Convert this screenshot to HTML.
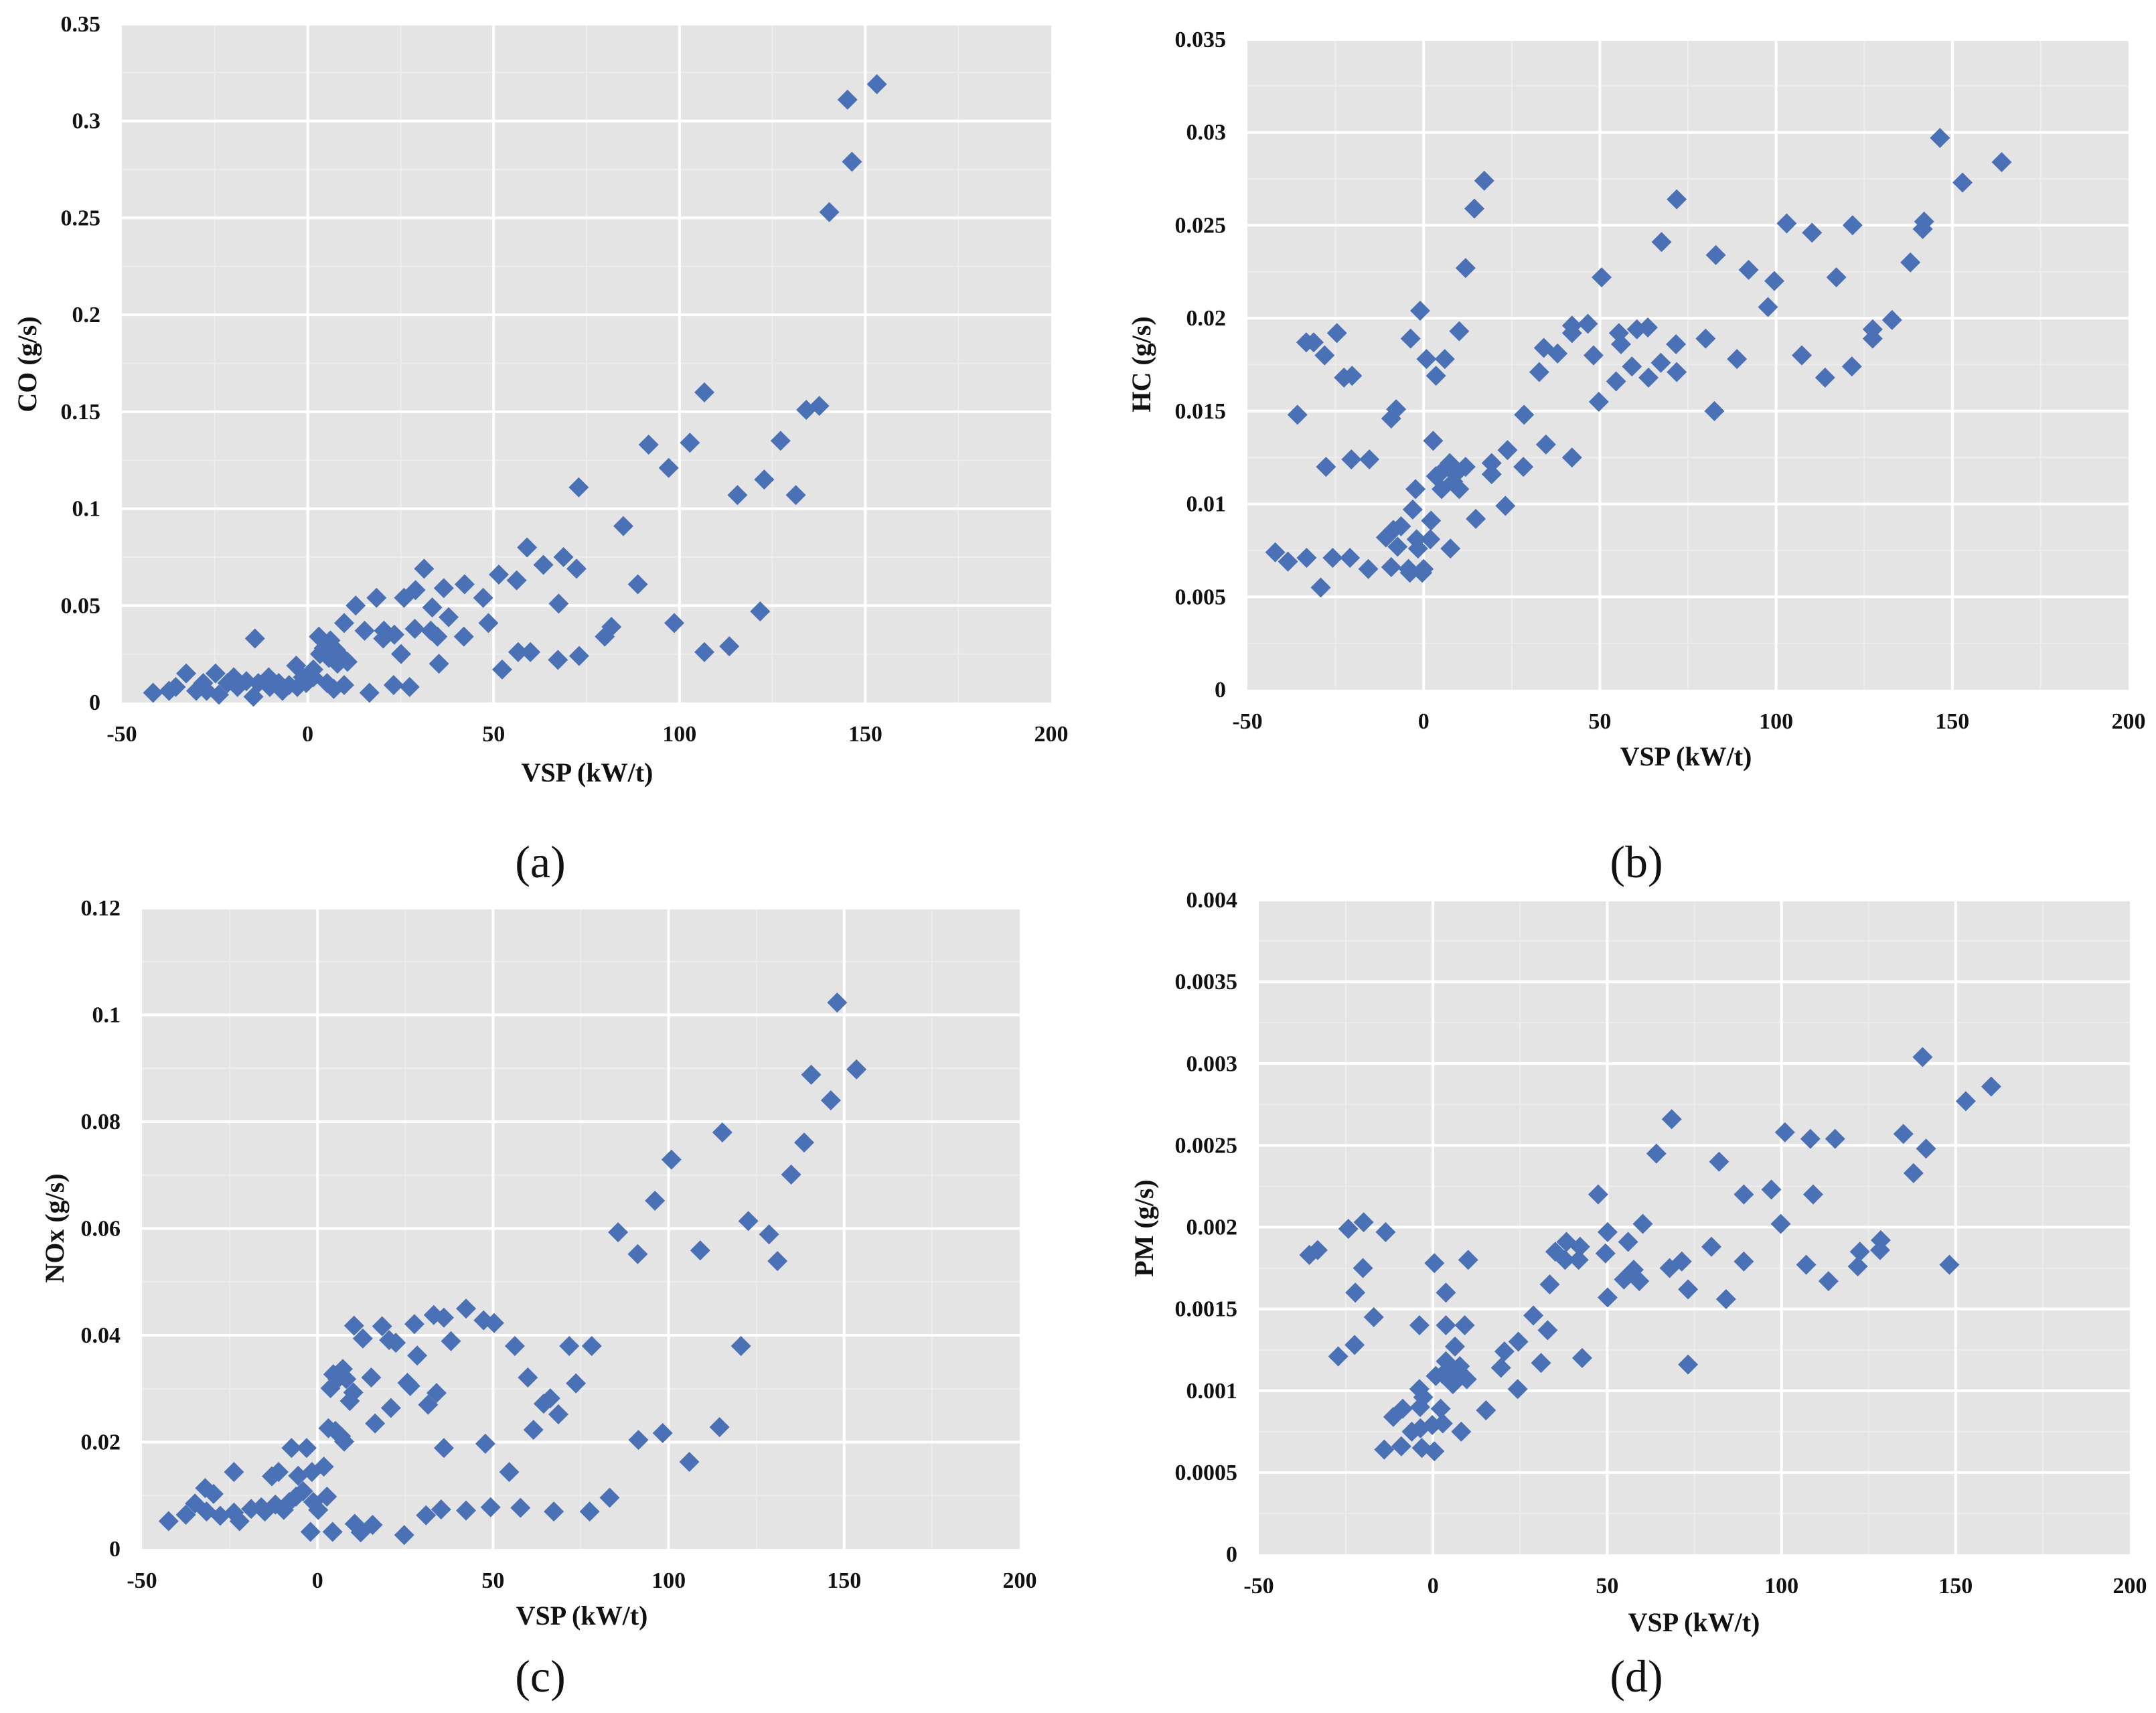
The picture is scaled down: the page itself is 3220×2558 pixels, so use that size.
<!DOCTYPE html>
<html><head><meta charset="utf-8">
<style>
html,body{margin:0;padding:0;background:#fff;}
svg{display:block;}
svg text{font-family:"Liberation Serif","Times New Roman",serif;}
</style></head>
<body>
<svg id="fig" width="3220" height="2558" viewBox="0 0 3220 2558" xmlns="http://www.w3.org/2000/svg"></svg>
<script>
// ---------- Data ----------
const xTicks = [-50, 0, 50, 100, 150, 200];
const coTicks = [0, 0.05, 0.1, 0.15, 0.2, 0.25, 0.3, 0.35];
const coTickLabels = ["0","0.05","0.1","0.15","0.2","0.25","0.3","0.35"];
const hcTicks = [0, 0.005, 0.01, 0.015, 0.02, 0.025, 0.03, 0.035];
const hcTickLabels = ["0","0.005","0.01","0.015","0.02","0.025","0.03","0.035"];
const noxTicks = [0, 0.02, 0.04, 0.06, 0.08, 0.1, 0.12];
const noxTickLabels = ["0","0.02","0.04","0.06","0.08","0.1","0.12"];
const pmTicks = [0, 0.0005, 0.001, 0.0015, 0.002, 0.0025, 0.003, 0.0035, 0.004];
const pmTickLabels = ["0","0.0005","0.001","0.0015","0.002","0.0025","0.003","0.0035","0.004"];

const coVSP = [153.1,145.2,146.4,140.3,106.7,134.1,137.6,91.7,102.8,127.2,97.1,72.9,115.6,122.8,131.3,84.9,59.0,63.4,68.8,72.3,51.4,56.2,88.8,67.5,31.3,42.2,36.6,47.2,48.6,25.9,29.0,18.5,12.9,33.5,37.9,42.0,34.9,33.1,28.8,20.5,23.3,20.3,15.3,9.8,25.1,35.3,98.6,81.7,79.9,121.7,56.6,59.9,52.3,67.3,73.0,106.7,113.4,23.1,27.4,16.6,-14.2,-3.1,3.0,6.1,4.3,7.6,8.9,10.7,3.3,5.7,8.0,1.5,5.2,9.8,7.0,-0.4,-2.8,-5.0,-7.8,-10.5,-10.2,-13.3,-14.6,-16.5,-19.9,-18.9,-23.9,-24.8,-28.1,-30,-32.7,-35.5,-37.3,-41.6,-27.2,-21.6,-6.8,-1.3,1.5];
const coVal = [0.319,0.311,0.279,0.253,0.160,0.151,0.153,0.133,0.134,0.135,0.121,0.111,0.107,0.115,0.107,0.091,0.080,0.071,0.075,0.069,0.066,0.063,0.061,0.051,0.069,0.061,0.059,0.054,0.041,0.054,0.058,0.054,0.050,0.049,0.044,0.034,0.034,0.037,0.038,0.037,0.035,0.033,0.037,0.041,0.025,0.020,0.041,0.039,0.034,0.047,0.026,0.026,0.017,0.022,0.024,0.026,0.029,0.009,0.008,0.005,0.033,0.019,0.034,0.032,0.028,0.027,0.024,0.021,0.025,0.023,0.020,0.017,0.010,0.009,0.007,0.010,0.008,0.009,0.010,0.013,0.008,0.010,0.003,0.011,0.013,0.008,0.004,0.015,0.010,0.006,0.015,0.008,0.006,0.005,0.006,0.010,0.006,0.013,0.013];

const hcVSP = [146.5,164.0,152.9,71.8,17.2,14.4,11.9,67.5,103.0,110.2,121.7,142.0,141.6,138.1,82.9,92.2,99.5,117.1,50.5,97.7,132.9,127.4,127.4,121.5,113.9,107.3,80.0,88.9,82.5,71.6,71.8,67.3,63.6,60.5,55.4,56.0,59.1,63.8,54.6,49.7,48.2,46.6,42.1,42.1,38.0,34.1,32.8,28.5,34.7,42.1,23.8,28.3,19.3,19.3,23.2,14.8,10.1,-1.0,-3.7,0.8,6.0,3.5,-7.8,-9.2,-35.8,-33.3,-31.2,-24.6,-28.1,-22.6,-20.3,-27.7,-20.5,-15.4,2.7,-2.3,-3.1,2.1,1.9,-2.0,-1.6,7.6,3.5,5.5,7.4,9.0,11.9,5.1,10.1,8.4,-6.4,-8.6,-10.7,-7.4,-9.2,-4.3,0,-3.9,-0.4,-15.7,-20.9,-25.8,-33.2,-38.5,-42.1,-29.2];
const hcVal = [0.0297,0.0284,0.0273,0.0264,0.0274,0.0259,0.0227,0.0241,0.0251,0.0246,0.0250,0.0252,0.0248,0.0230,0.0234,0.0226,0.0220,0.0222,0.0222,0.0206,0.0199,0.0194,0.0189,0.0174,0.0168,0.0180,0.0189,0.0178,0.0150,0.0186,0.0171,0.0176,0.0195,0.0194,0.0192,0.0186,0.0174,0.0168,0.0166,0.0155,0.0180,0.0197,0.0196,0.0192,0.0181,0.0184,0.0171,0.0148,0.0132,0.0125,0.0129,0.0120,0.0122,0.0116,0.0099,0.0092,0.0193,0.0204,0.0189,0.0178,0.0178,0.0169,0.0151,0.0146,0.0148,0.0187,0.0187,0.0192,0.0180,0.0168,0.0169,0.0120,0.0124,0.0124,0.0134,0.0108,0.0097,0.0091,0.0081,0.0081,0.0076,0.0076,0.0115,0.0118,0.0122,0.0116,0.0120,0.0108,0.0108,0.0112,0.0088,0.0086,0.0082,0.0077,0.0066,0.0065,0.0065,0.0063,0.0063,0.0065,0.0071,0.0071,0.0071,0.0069,0.0074,0.0055];

const noxVSP = [148.0,153.5,140.6,146.2,138.6,115.3,100.8,134.9,96.1,85.6,122.7,128.6,91.2,109.0,131.0,120.6,114.5,98.3,91.4,105.9,83.2,77.5,67.3,57.8,49.3,42.3,35.2,30.9,24.7,15.7,10.6,12.3,4.3,-2.0,42.3,33.1,36.0,47.3,50.3,27.6,18.4,10.4,12.9,20.4,22.3,38.0,56.2,71.7,78.1,28.4,59.9,73.6,15.3,25.6,26.4,33.9,31.5,66.3,64.4,68.6,20.9,16.4,61.5,36.0,47.8,54.6,4.5,7.2,5.7,8.2,3.7,10.2,9.2,3.1,5.1,6.7,7.6,-7.4,-3.1,-23.8,-13.0,-11.1,-5.5,-1.6,1.8,-4.1,-6.1,-8.0,-9.6,-12.0,-1.2,0.2,2.7,-32.0,-29.6,-34.9,-31.6,-27.7,-23.8,-22.2,-18.9,-16.0,-15.0,-37.5,-42.4];
const noxVal = [0.1023,0.0898,0.0888,0.0840,0.0761,0.0780,0.0729,0.0701,0.0652,0.0593,0.0614,0.0589,0.0552,0.0559,0.0539,0.0380,0.0228,0.0217,0.0204,0.0163,0.0096,0.0070,0.0070,0.0077,0.0078,0.0072,0.0074,0.0063,0.0026,0.0045,0.0047,0.0031,0.0032,0.0032,0.0450,0.0438,0.0433,0.0428,0.0423,0.0421,0.0417,0.0418,0.0394,0.0391,0.0386,0.0389,0.0380,0.0380,0.0380,0.0362,0.0321,0.0310,0.0321,0.0311,0.0305,0.0292,0.0270,0.0282,0.0272,0.0252,0.0264,0.0235,0.0223,0.0189,0.0197,0.0144,0.0327,0.0337,0.0318,0.0318,0.0301,0.0293,0.0277,0.0226,0.0221,0.0211,0.0201,0.0189,0.0189,0.0144,0.0136,0.0144,0.0137,0.0144,0.0154,0.0108,0.0098,0.0088,0.0073,0.0083,0.0088,0.0073,0.0098,0.0114,0.0103,0.0085,0.0070,0.0062,0.0068,0.0052,0.0075,0.0078,0.0070,0.0064,0.0052];

const pmVSP = [140.5,160.2,152.9,68.5,101.0,108.3,115.4,135.0,141.5,64.1,82.1,137.9,97.1,89.2,109.1,47.4,99.8,60.2,50.1,128.5,128.3,122.5,121.9,79.9,89.2,107.1,148.2,113.5,71.4,67.9,73.2,84.1,73.2,56.0,57.6,54.8,59.2,49.5,50.1,38.3,37.9,35.1,42.2,41.8,33.5,28.8,32.9,31.0,42.8,24.5,20.5,19.5,24.3,15.2,10.1,0.4,3.7,3.7,9.1,-3.9,6.3,3.7,7.7,4.7,0.8,9.7,5.7,8.3,2.8,-3.9,-2.8,-3.7,2.2,2.8,-0.2,-3.6,-6.1,8.1,-11.4,-8.7,-9.1,-14.0,-3.2,0.4,-35.5,-33.1,-24.3,-19.9,-13.6,-20.1,-22.3,-17.0,-27.2,-22.5];
const pmVal = [0.00304,0.00286,0.00277,0.00266,0.00258,0.00254,0.00254,0.00257,0.00248,0.00245,0.00240,0.00233,0.00223,0.00220,0.00220,0.00220,0.00202,0.00202,0.00197,0.00192,0.00186,0.00185,0.00176,0.00188,0.00179,0.00177,0.00177,0.00167,0.00179,0.00175,0.00162,0.00156,0.00116,0.00191,0.00174,0.00168,0.00167,0.00184,0.00157,0.00191,0.00180,0.00185,0.00188,0.00180,0.00165,0.00146,0.00137,0.00117,0.00120,0.00130,0.00124,0.00114,0.00101,0.00088,0.00180,0.00178,0.00160,0.00140,0.00140,0.00140,0.00127,0.00118,0.00115,0.00112,0.00109,0.00107,0.00104,0.00110,0.00110,0.00101,0.00096,0.00090,0.00089,0.00080,0.00079,0.00077,0.00075,0.00075,0.00084,0.00089,0.00066,0.00064,0.00065,0.00063,0.00183,0.00186,0.00199,0.00203,0.00197,0.00175,0.00160,0.00145,0.00121,0.00128];

// ---------- Drawing ----------
const NS = "http://www.w3.org/2000/svg";
const FONT = '"Liberation Serif", "Times New Roman", serif';
const svg = document.getElementById("fig");
function mk(tag, attrs, parent) {
  const el = document.createElementNS(NS, tag);
  for (const k in attrs) el.setAttribute(k, attrs[k]);
  if (tag === "text") el.setAttribute("font-family", FONT);
  (parent || svg).appendChild(el);
  return el;
}

function drawPanel(p) {
  const g = mk("g", {});
  
  
  const xs = v => p.L + (v - (-50)) / 250 * (p.R - p.L);
  const yMax = p.yTicks[p.yTicks.length - 1];
  const ys = v => p.B - v / yMax * (p.B - p.T);

  const bg = mk("rect", {x: p.L, y: p.T, width: p.R - p.L, height: p.B - p.T, fill: "#e4e4e4"}, g);
  
  

  for (let i = 0; i < xTicks.length - 1; i++) {
    const mx = xs((xTicks[i] + xTicks[i + 1]) / 2);
    mk("line", {x1: mx, x2: mx, y1: p.T, y2: p.B, stroke: "#ededed", "stroke-width": 2}, g);
  }
  for (let i = 0; i < p.yTicks.length - 1; i++) {
    const my = ys((p.yTicks[i] + p.yTicks[i + 1]) / 2);
    mk("line", {x1: p.L, x2: p.R, y1: my, y2: my, stroke: "#ededed", "stroke-width": 2}, g);
  }
  xTicks.forEach((t, i) => {
    const x = xs(t);
    if (i > 0 && i < xTicks.length - 1) {
      const gl = mk("line", {x1: x, x2: x, y1: p.T, y2: p.B, stroke: "#ffffff", "stroke-width": 4}, g);
      
      
    }
    const tl = mk("text", {x: x, y: p.B + 58, "text-anchor": "middle", "font-size": 34, "font-weight": "bold", fill: "#111"}, g);
    tl.textContent = String(t);
    
    
  });
  p.yTicks.forEach((t, i) => {
    const y = ys(t);
    if (i > 0) {
      const gl = mk("line", {x1: p.L, x2: p.R, y1: y, y2: y, stroke: "#ffffff", "stroke-width": 4}, g);
      
      
    }
    const tl = mk("text", {x: p.L - 32, y: y + 11, "text-anchor": "end", "font-size": 34, "font-weight": "bold", fill: "#111"}, g);
    tl.textContent = p.yLabels[i];
    
    
  });
  const h = 15;
  p.xs.forEach((xv, i) => {
    const cx = xs(xv), cy = ys(p.ys[i]);
    const d = mk("path", {d: `M${cx} ${cy - h}L${cx + h} ${cy}L${cx} ${cy + h}L${cx - h} ${cy}Z`, fill: "#4a70b5"}, g);
    
    
  });
  const xt = mk("text", {x: p.xtX, y: p.xtY, "text-anchor": "middle", "font-size": 40, "font-weight": "bold", fill: "#111"}, g);
  xt.textContent = "VSP (kW/t)";
  
  
  const yt = mk("text", {x: 0, y: 0, "text-anchor": "middle", "font-size": 40, "font-weight": "bold", fill: "#111", transform: `translate(${p.ytX},${p.ytY}) rotate(-90)`}, g);
  yt.textContent = p.yTitle;
  
  
  const cap = mk("text", {x: p.capX, y: p.capY, "text-anchor": "middle", "font-size": 68, fill: "#111"}, g);
  cap.textContent = p.caption;
  
  
}

drawPanel({id: "co", L: 182, R: 1570, T: 36, B: 1049, yTicks: coTicks, yLabels: coTickLabels, xs: coVSP, ys: coVal,
  yTitle: "CO (g/s)", xtX: 877, xtY: 1167, ytX: 54, ytY: 544, caption: "(a)", capX: 807, capY: 1310});
drawPanel({id: "hc", L: 1863, R: 3179, T: 59, B: 1030, yTicks: hcTicks, yLabels: hcTickLabels, xs: hcVSP, ys: hcVal,
  yTitle: "HC (g/s)", xtX: 2518, xtY: 1143, ytX: 1718, ytY: 544, caption: "(b)", capX: 2444, capY: 1310});
drawPanel({id: "nox", L: 212, R: 1523, T: 1356, B: 2313, yTicks: noxTicks, yLabels: noxTickLabels, xs: noxVSP, ys: noxVal,
  yTitle: "NOx (g/s)", xtX: 869, xtY: 2426, ytX: 95, ytY: 1834, caption: "(c)", capX: 807, capY: 2526});
drawPanel({id: "pm", L: 1880, R: 3181, T: 1344, B: 2321, yTicks: pmTicks, yLabels: pmTickLabels, xs: pmVSP, ys: pmVal,
  yTitle: "PM (g/s)", xtX: 2530, xtY: 2436, ytX: 1722, ytY: 1834, caption: "(d)", capX: 2444, capY: 2526});
</script>
</body></html>
